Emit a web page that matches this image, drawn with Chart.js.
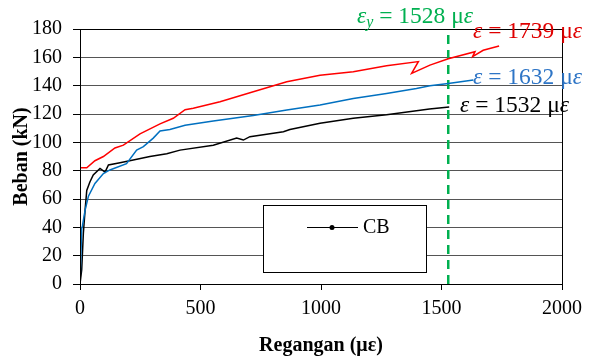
<!DOCTYPE html>
<html>
<head>
<meta charset="utf-8">
<script src="https://cdn.jsdelivr.net/npm/chart.js@4"></script>
<style>
  html, body { margin: 0; padding: 0; background: #fff; }
  #wrap { width: 591px; height: 356px; position: relative; }
</style>
</head>
<body>
<div id="wrap"><canvas id="chart"></canvas></div>
<script>
// strain (με) vs load (kN)
const redStrain = [0, 0, 28, 62, 97, 145, 180, 249, 332, 387, 436, 470, 581, 719, 858, 996, 1134, 1272, 1404, 1376, 1452, 1528, 1639, 1629, 1673, 1739];
const redLoad = [0, 82, 82, 87, 90, 96, 98, 106, 113, 117, 123, 124, 128.7, 135.7, 142.8, 147.4, 149.8, 154, 157, 148.7, 154.5, 159, 164, 160.5, 165, 168];

const blueStrain = [0, 7, 10, 21, 35, 62, 97, 124, 193, 235, 263, 304, 332, 373, 436, 553, 719, 858, 996, 1134, 1272, 1396, 1452, 1528, 1632];
const blueLoad = [0, 39, 41, 52, 62, 71, 78, 80.5, 85, 94.6, 97, 103, 108, 109, 112, 115, 119, 122.8, 126.3, 131, 134.5, 138, 140, 141.6, 144];

const blackStrain = [0, 7, 14, 21, 28, 41, 55, 83, 104, 118, 166, 221, 290, 360, 415, 553, 650, 678, 705, 844, 871, 996, 1134, 1272, 1396, 1450, 1532];
const blackLoad = [0, 10, 36, 52, 66, 72, 77, 81.6, 79, 84, 85.6, 87.5, 90, 92, 94.5, 98, 103, 101.6, 104, 107.5, 109, 113.4, 117, 119.5, 122.3, 123.5, 125];

const yieldStrain = 1528;
const yieldLoads = [0, 178];

const xTicks = [0, 500, 1000, 1500, 2000];
const legendLabel = 'CB';

const annotations = [
  { parts: [['ε', true], ['y', true, true], [' = 1528 μ', false], ['ε', true]], x: 357, y: 17, color: '#00b050' },
  { parts: [['ε', true], [' = 1739 μ', false], ['ε', true]], x: 473, y: 32, color: '#e00000' },
  { parts: [['ε', true], [' = 1632 μ', false], ['ε', true]], x: 473, y: 78, color: '#2e75c6' },
  { parts: [['ε', true], [' = 1532 μ', false], ['ε', true]], x: 460, y: 106, color: '#000000' },
];

const toPoints = (xs, ys) => xs.map((x, i) => ({ x, y: ys[i] }));

const serif = '"Liberation Serif", "Times New Roman", serif';

function line(data, color, extra) {
  return Object.assign({
    data,
    borderColor: color,
    backgroundColor: color,
    borderWidth: 1.5,
    pointRadius: 0,
    showLine: true,
    tension: 0,
  }, extra || {});
}

// frame round the plot, legend box and the strain labels
const decorations = {
  id: 'decorations',
  afterDraw(chart) {
    const { ctx, chartArea: a } = chart;
    ctx.save();
    ctx.strokeStyle = '#000';
    ctx.lineWidth = 1;
    ctx.strokeRect(a.left + 0.5, a.top + 0.5, a.right - a.left, a.bottom - a.top);

    // legend box
    ctx.fillStyle = '#fff';
    ctx.fillRect(263, 205, 163, 67);
    ctx.strokeRect(263.5, 205.5, 163, 67);
    ctx.beginPath();
    ctx.moveTo(307, 227.5);
    ctx.lineTo(358, 227.5);
    ctx.stroke();
    ctx.fillStyle = '#000';
    ctx.beginPath();
    ctx.arc(332, 227.5, 2.5, 0, Math.PI * 2);
    ctx.fill();
    ctx.font = '20px ' + serif;
    ctx.textBaseline = 'middle';
    ctx.fillText(legendLabel, 363, 228);

    // strain labels
    annotations.forEach(an => {
      let x = an.x;
      ctx.fillStyle = an.color;
      an.parts.forEach(([text, italic, sub]) => {
        const size = sub ? 16 : 23.5;
        ctx.font = (italic ? 'italic ' : '') + size + 'px ' + serif;
        ctx.fillText(text, x, an.y + (sub ? 6 : 0));
        x += ctx.measureText(text).width;
      });
    });
    ctx.restore();
  }
};

new Chart(document.getElementById('chart'), {
  type: 'scatter',
  data: {
    datasets: [
      line(toPoints(redStrain, redLoad), '#ff0000'),
      line(toPoints(blueStrain, blueLoad), '#0070c0'),
      line(toPoints(blackStrain, blackLoad), '#000000', { label: legendLabel }),
      line(yieldLoads.map(y => ({ x: yieldStrain, y })), '#00b050', { borderWidth: 2.5, borderDash: [9, 6] }),
    ],
  },
  options: {
    responsive: true,
    maintainAspectRatio: false,
    animation: false,
    layout: { padding: { top: 29, right: 29, left: 0, bottom: 0 } },
    plugins: {
      legend: { display: false },
      tooltip: { enabled: false },
    },
    scales: {
      x: {
        type: 'linear',
        min: 0,
        max: 2000,
        afterBuildTicks: scale => { scale.ticks = xTicks.map(value => ({ value })); },
        afterFit: scale => { scale.height = 72; },
        grid: { drawOnChartArea: false, drawTicks: true, tickLength: 6, color: '#000' },
        border: { color: '#000', width: 1 },
        ticks: {
          color: '#000',
          font: { family: serif, size: 20 },
          padding: 7,
          maxRotation: 0,
          callback: value => String(value),
        },
        title: {
          display: true,
          text: 'Regangan (με)',
          color: '#000',
          font: { family: serif, size: 20, weight: 'bold', lineHeight: 1 },
          padding: { top: 0, bottom: 0 },
        },
      },
      y: {
        min: 0,
        max: 180,
        afterFit: scale => { scale.width = 80; },
        grid: { color: '#555', lineWidth: 1, tickLength: 7, tickColor: '#000' },
        border: { color: '#000', width: 1 },
        ticks: { stepSize: 20, color: '#000', font: { family: serif, size: 20 }, padding: 11 },
        title: {
          display: true,
          text: 'Beban (kN)',
          color: '#000',
          font: { family: serif, size: 20, weight: 'bold', lineHeight: 1.2 },
          padding: { top: 10, bottom: 0 },
        },
      },
    },
  },
  plugins: [decorations],
});
</script>
</body>
</html>
